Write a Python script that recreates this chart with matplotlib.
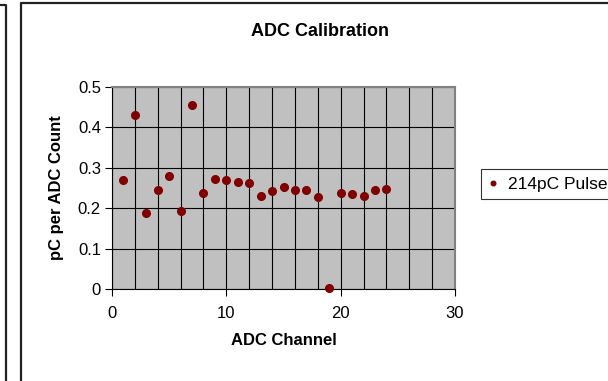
import matplotlib.pyplot as plt
from matplotlib.lines import Line2D
from matplotlib.ticker import MultipleLocator

plt.rcParams['font.family'] = ['Liberation Sans', 'DejaVu Sans']

# pC per ADC count, one point per channel
channels = [1, 2, 3, 4, 5, 6, 7, 8, 9, 10, 11, 12,
            13, 14, 15, 16, 17, 18, 19, 20, 21, 22, 23, 24]
pc_per_count = [0.270, 0.430, 0.189, 0.245, 0.280, 0.192, 0.456, 0.238,
                0.272, 0.270, 0.266, 0.262, 0.231, 0.242, 0.252, 0.246,
                0.246, 0.228, 0.002, 0.238, 0.234, 0.231, 0.245, 0.248]
series_name = "214pC Pulse"

W, H = 608, 381
fig = plt.figure(figsize=(W / 100, H / 100), dpi=100)
ax = fig.add_axes([112 / W, 1 - 289 / H, (455 - 112) / W, (289 - 87) / H])
ax.set_facecolor("#c0c0c0")

ax.plot(channels, pc_per_count, "o", color="#800000", markersize=5.5,
        label=series_name, zorder=3, clip_on=False)

ax.set_xlim(0, 30)
ax.set_ylim(0, 0.5)
ax.xaxis.set_major_locator(MultipleLocator(10))
ax.xaxis.set_minor_locator(MultipleLocator(2))
ax.yaxis.set_major_locator(MultipleLocator(0.1))
ax.yaxis.set_major_formatter(lambda v, p: "0" if abs(v) < 1e-9 else f"{v:.1f}")

ax.grid(True, which="both", color="black", linewidth=0.8, zorder=1)
ax.set_axisbelow(True)
ax.tick_params(which="major", direction="out", length=5, width=0.8,
               labelsize=12, pad=3)
ax.tick_params(axis="x", which="major", pad=7)
ax.tick_params(which="minor", length=0)

for side in ("left", "bottom"):
    ax.spines[side].set_color("black")
for side in ("top", "right"):
    ax.spines[side].set_color("#808080")
    ax.spines[side].set_linewidth(1.5)

ax.set_xlabel("ADC Channel", fontsize=12, fontweight="bold", labelpad=9)
ax.set_ylabel("pC per ADC Count", fontsize=12, fontweight="bold", labelpad=10)
fig.text(320 / W, 1 - 32 / H, "ADC Calibration", ha="center", va="center",
         fontsize=13, fontweight="bold")

leg = fig.legend(loc="center left", bbox_to_anchor=(481 / W, 1 - 184 / H),
                 fontsize=12.5, frameon=True, fancybox=False, handlelength=0.5,
                 handletextpad=0.6, borderpad=0.45, borderaxespad=0,
                 markerscale=0.6)
leg.get_frame().set_edgecolor("black")
leg.get_frame().set_linewidth(0.8)

# chart frame borders
fig.add_artist(Line2D([21 / W, 21 / W, 1], [0, 1 - 3 / H, 1 - 3 / H],
                      transform=fig.transFigure, color="#222222", linewidth=1.6))
fig.add_artist(Line2D([0, 6 / W, 6 / W], [1 - 5 / H, 1 - 5 / H, 0],
                      transform=fig.transFigure, color="#222222", linewidth=1.6))

fig.savefig("out.png", dpi=100)
